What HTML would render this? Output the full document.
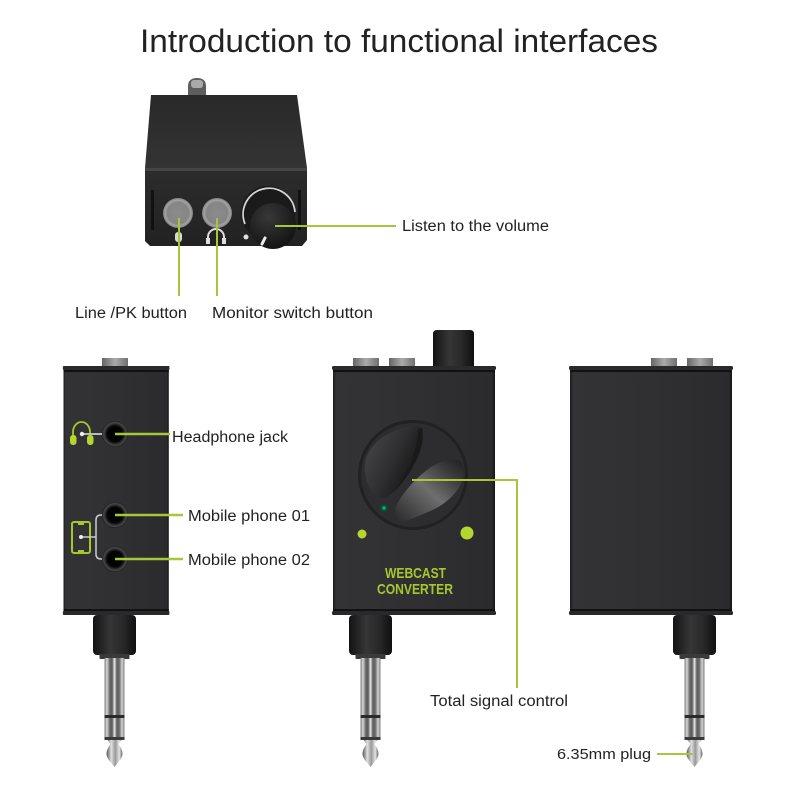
<!DOCTYPE html>
<html><head><meta charset="utf-8">
<style>
html,body{margin:0;padding:0;background:#fff;width:800px;height:800px;overflow:hidden}
svg{display:block}
text{font-family:"Liberation Sans",sans-serif;fill:#222}
</style></head>
<body>
<svg width="800" height="800" viewBox="0 0 800 800" xmlns="http://www.w3.org/2000/svg">
<defs>
<linearGradient id="metal" x1="0" x2="1" y1="0" y2="0">
<stop offset="0" stop-color="#777"/><stop offset=".12" stop-color="#d8d8d8"/><stop offset=".26" stop-color="#6a6a6a"/><stop offset=".38" stop-color="#5a5a5a"/><stop offset=".5" stop-color="#e8e8e8"/><stop offset=".62" stop-color="#5c5c5c"/><stop offset=".74" stop-color="#6c6c6c"/><stop offset=".88" stop-color="#d4d4d4"/><stop offset="1" stop-color="#777"/>
</linearGradient>
<linearGradient id="head" x1="0" x2="1" y1="0" y2="0">
<stop offset="0" stop-color="#555"/><stop offset=".3" stop-color="#e0e0e0"/><stop offset=".55" stop-color="#999"/><stop offset=".8" stop-color="#e4e4e4"/><stop offset="1" stop-color="#666"/>
</linearGradient>
<linearGradient id="collar" x1="0" x2="1" y1="0" y2="0">
<stop offset="0" stop-color="#131313"/><stop offset=".4" stop-color="#363636"/><stop offset=".7" stop-color="#282828"/><stop offset="1" stop-color="#101010"/>
</linearGradient>
<linearGradient id="bump" x1="0" x2="1" y1="0" y2="0">
<stop offset="0" stop-color="#666"/><stop offset=".5" stop-color="#aaa"/><stop offset="1" stop-color="#707070"/>
</linearGradient>
<linearGradient id="face" x1="0" x2="1" y1="0" y2="0">
<stop offset="0" stop-color="#1c1c1e"/><stop offset=".02" stop-color="#333335"/><stop offset=".5" stop-color="#303032"/><stop offset=".98" stop-color="#2b2b2d"/><stop offset="1" stop-color="#141414"/>
</linearGradient>
<linearGradient id="topf" x1="0" x2="0" y1="0" y2="1">
<stop offset="0" stop-color="#292929"/><stop offset="1" stop-color="#353535"/>
</linearGradient>
<linearGradient id="frontf" x1="0" x2="0" y1="0" y2="1">
<stop offset="0" stop-color="#2c2c2c"/><stop offset="1" stop-color="#222"/>
</linearGradient>
<radialGradient id="btn"><stop offset="0" stop-color="#8c8c8c"/><stop offset=".72" stop-color="#858585"/><stop offset=".86" stop-color="#a4a4a4"/><stop offset="1" stop-color="#7e7e7e"/></radialGradient>
<radialGradient id="jack"><stop offset="0" stop-color="#000"/><stop offset=".6" stop-color="#040404"/><stop offset=".76" stop-color="#2c2c2c"/><stop offset=".88" stop-color="#484848"/><stop offset="1" stop-color="#1c1c1c"/></radialGradient>
<radialGradient id="knobi" cx=".4" cy=".3" r=".8"><stop offset="0" stop-color="#383838"/><stop offset="1" stop-color="#0f0f0f"/></radialGradient>
<linearGradient id="lobe" x1="0" x2="1" y1="0" y2=".6">
<stop offset="0" stop-color="#4a4a4c"/><stop offset=".55" stop-color="#2f2f31"/><stop offset="1" stop-color="#131313"/>
</linearGradient>
<linearGradient id="lobe2" x1="0" x2="1" y1="1" y2="0">
<stop offset="0" stop-color="#272729"/><stop offset=".5" stop-color="#6e6e6e"/><stop offset=".78" stop-color="#3c3c3c"/><stop offset="1" stop-color="#1e1e20"/>
</linearGradient>
<g id="plug">
<rect x="-21.500" y="0" width="43" height="40" rx="4" fill="url(#collar)"/>
<rect x="-15" y="39" width="30" height="5" rx="1" fill="#3a3a3a"/>
<rect x="-10" y="43" width="20" height="80" fill="url(#metal)"/>
<rect x="-10" y="100" width="20" height="3" fill="#2a2a2a"/>
<rect x="-10" y="122" width="20" height="3" fill="#3a3a3a"/>
<path d="M-7 125H7L4 129C6 132 8 135 8 139C8 143 4 147 0 152C-4 147-8 143-8 139C-8 135-6 132-4 129Z" fill="url(#head)"/>
</g>
<g id="body">
<rect width="162" height="249" rx="2" fill="url(#face)"/>
<rect x="-1" y="0" width="164" height="4" rx="1.500" fill="#2a2a2c"/>
<rect x="0" y="4" width="162" height="2" fill="#111"/>
<rect x="0" y="243" width="162" height="2" fill="#111"/>
<rect x="-1" y="245" width="164" height="4" rx="1.500" fill="#29292b"/>
</g>
</defs>

<rect width="800" height="800" fill="#fff"/>
<text x="140" y="52" font-size="32" textLength="518" lengthAdjust="spacingAndGlyphs">Introduction to functional interfaces</text>

<!-- Top device -->
<path d="M188 96V86C188 81 191 78 197 78C203 78 206 81 206 86V96Z" fill="#5e5e5e"/>
<rect x="191" y="80" width="12" height="8" rx="3" fill="#aaa"/>
<path d="M151 95H297L307 168V176H145V168Z" fill="url(#topf)"/>
<path d="M145 170H307V240L302 246H150L145 241Z" fill="url(#frontf)"/>
<rect x="145" y="168" width="162" height="3" fill="#454545"/>
<rect x="151" y="190" width="3" height="40" fill="#111"/>
<rect x="298" y="190" width="3" height="40" fill="#111"/>
<circle cx="178" cy="213" r="15" fill="url(#btn)"/>
<circle cx="217" cy="213" r="15" fill="url(#btn)"/>
<rect x="175" y="232" width="7" height="10" rx="3" fill="#d8d8d8"/>
<path d="M208 243V237A8 8 0 0 1 224 237V243" fill="none" stroke="#ddd" stroke-width="2"/>
<rect x="206" y="238" width="4" height="6" fill="#ddd"/><rect x="222" y="238" width="4" height="6" fill="#ddd"/>
<circle cx="268" cy="213" r="27" fill="#1a1a1a"/>
<path d="M245 224A26 26 0 1 1 295 212" fill="none" stroke="#d5d5d5" stroke-width="1.800"/>
<circle cx="273" cy="226" r="23" fill="url(#knobi)"/>
<circle cx="246" cy="237" r="2.500" fill="#ddd"/>
<path d="M262 244L265 238" stroke="#eee" stroke-width="3" stroke-linecap="round"/>

<!-- Left device -->
<rect x="102" y="358" width="26" height="9" fill="url(#bump)"/>
<use href="#body" transform="translate(63.500 366) scale(.65 1)"/>
<use href="#plug" x="114.500" y="615"/>
<path d="M73 436V432A8.500 10 0 0 1 90 432V436" fill="none" stroke="#a6c82c" stroke-width="1.800"/>
<rect x="70" y="435" width="6.500" height="10" rx="3" fill="#b5d62f"/>
<rect x="87" y="435" width="6.500" height="10" rx="3" fill="#b5d62f"/>
<path d="M82 434H105" stroke="#bbb" stroke-width="2"/>
<circle cx="82" cy="434" r="2.200" fill="#eee"/>
<circle cx="115" cy="434" r="13" fill="url(#jack)"/>
<circle cx="115" cy="515" r="13" fill="url(#jack)"/>
<circle cx="115" cy="559" r="13" fill="url(#jack)"/>
<rect x="72" y="522" width="18" height="31" rx="2" fill="none" stroke="#a6c82c" stroke-width="2"/>
<path d="M78 524H84M78 551H84" stroke="#a6c82c" stroke-width="2"/>
<path d="M81 537H96M102 515H101Q96 515 96 520V554Q96 559 101 559H102" fill="none" stroke="#ccc" stroke-width="1.500"/>
<circle cx="81" cy="537" r="2" fill="#eee"/>

<!-- Middle device -->
<rect x="353" y="358" width="26" height="9" fill="url(#bump)"/>
<rect x="389" y="358" width="26" height="9" fill="url(#bump)"/>
<path d="M433 366V334Q433 330 437 330H470Q474 330 474 334V366Z" fill="url(#collar)"/>
<use href="#body" x="333" y="366"/>
<use href="#plug" x="370.500" y="615"/>
<circle cx="413" cy="475" r="55" fill="#212122"/>
<circle cx="413" cy="475" r="52" fill="#2d2d2f"/>
<path d="M422 428C426 446 414 470 396 490C388 498 380 499 375 495C366 487 362 470 367 456C373 440 392 430 408 427C414 426 420 426 422 428Z" fill="url(#lobe)"/>
<path d="M422 428C426 446 414 470 396 490C408 472 418 450 418 429Z" fill="#1a1a1a"/>
<path d="M396 521C392 514 396 503 405 492C416 478 432 463 448 460C460 458 465 463 464 474C462 490 446 505 428 512C412 519 401 524 396 521Z" fill="url(#lobe2)"/>
<circle cx="384" cy="508" r="4" fill="#0b4a32"/>
<circle cx="384" cy="508" r="1.800" fill="#19a868"/>
<circle cx="362" cy="534" r="4.500" fill="#b5d62f"/>
<circle cx="467" cy="533" r="6.500" fill="#b5d62f"/>
<text x="385" y="578" font-size="15" font-weight="bold" style="fill:#a6c82c" textLength="61" lengthAdjust="spacingAndGlyphs">WEBCAST</text>
<text x="377" y="594" font-size="15" font-weight="bold" style="fill:#a6c82c" textLength="76" lengthAdjust="spacingAndGlyphs">CONVERTER</text>

<!-- Right device -->
<rect x="651" y="358" width="26" height="9" fill="url(#bump)"/>
<rect x="687" y="358" width="26" height="9" fill="url(#bump)"/>
<use href="#body" x="570" y="366"/>
<use href="#plug" x="694.500" y="615"/>

<!-- Leaders -->
<g fill="none" stroke="#a8c63a" stroke-width="2">
<path d="M179 218V296"/>
<path d="M217 218V296"/>
<path d="M275 226H396"/>
<path d="M115 434H170" stroke-width="2.500"/>
<path d="M115 515H183" stroke-width="2.500"/>
<path d="M115 559H183" stroke-width="2.500"/>
<path d="M412 480H517V688"/>
<path d="M657 754H693"/>
</g>

<!-- Labels -->
<text x="402" y="231" font-size="15.500" textLength="147" lengthAdjust="spacingAndGlyphs">Listen to the volume</text>
<text x="75" y="318" font-size="15.500" textLength="112" lengthAdjust="spacingAndGlyphs">Line /PK button</text>
<text x="212" y="318" font-size="15.500" textLength="161" lengthAdjust="spacingAndGlyphs">Monitor switch button</text>
<text x="172" y="442" font-size="15.500" textLength="116" lengthAdjust="spacingAndGlyphs">Headphone jack</text>
<text x="188" y="521" font-size="15.500" textLength="122" lengthAdjust="spacingAndGlyphs">Mobile phone 01</text>
<text x="188" y="565" font-size="15.500" textLength="122" lengthAdjust="spacingAndGlyphs">Mobile phone 02</text>
<text x="430" y="706" font-size="15.500" textLength="138" lengthAdjust="spacingAndGlyphs">Total signal control</text>
<text x="557" y="759" font-size="14.500" textLength="94" lengthAdjust="spacingAndGlyphs">6.35mm plug</text>
</svg>
</body></html>
